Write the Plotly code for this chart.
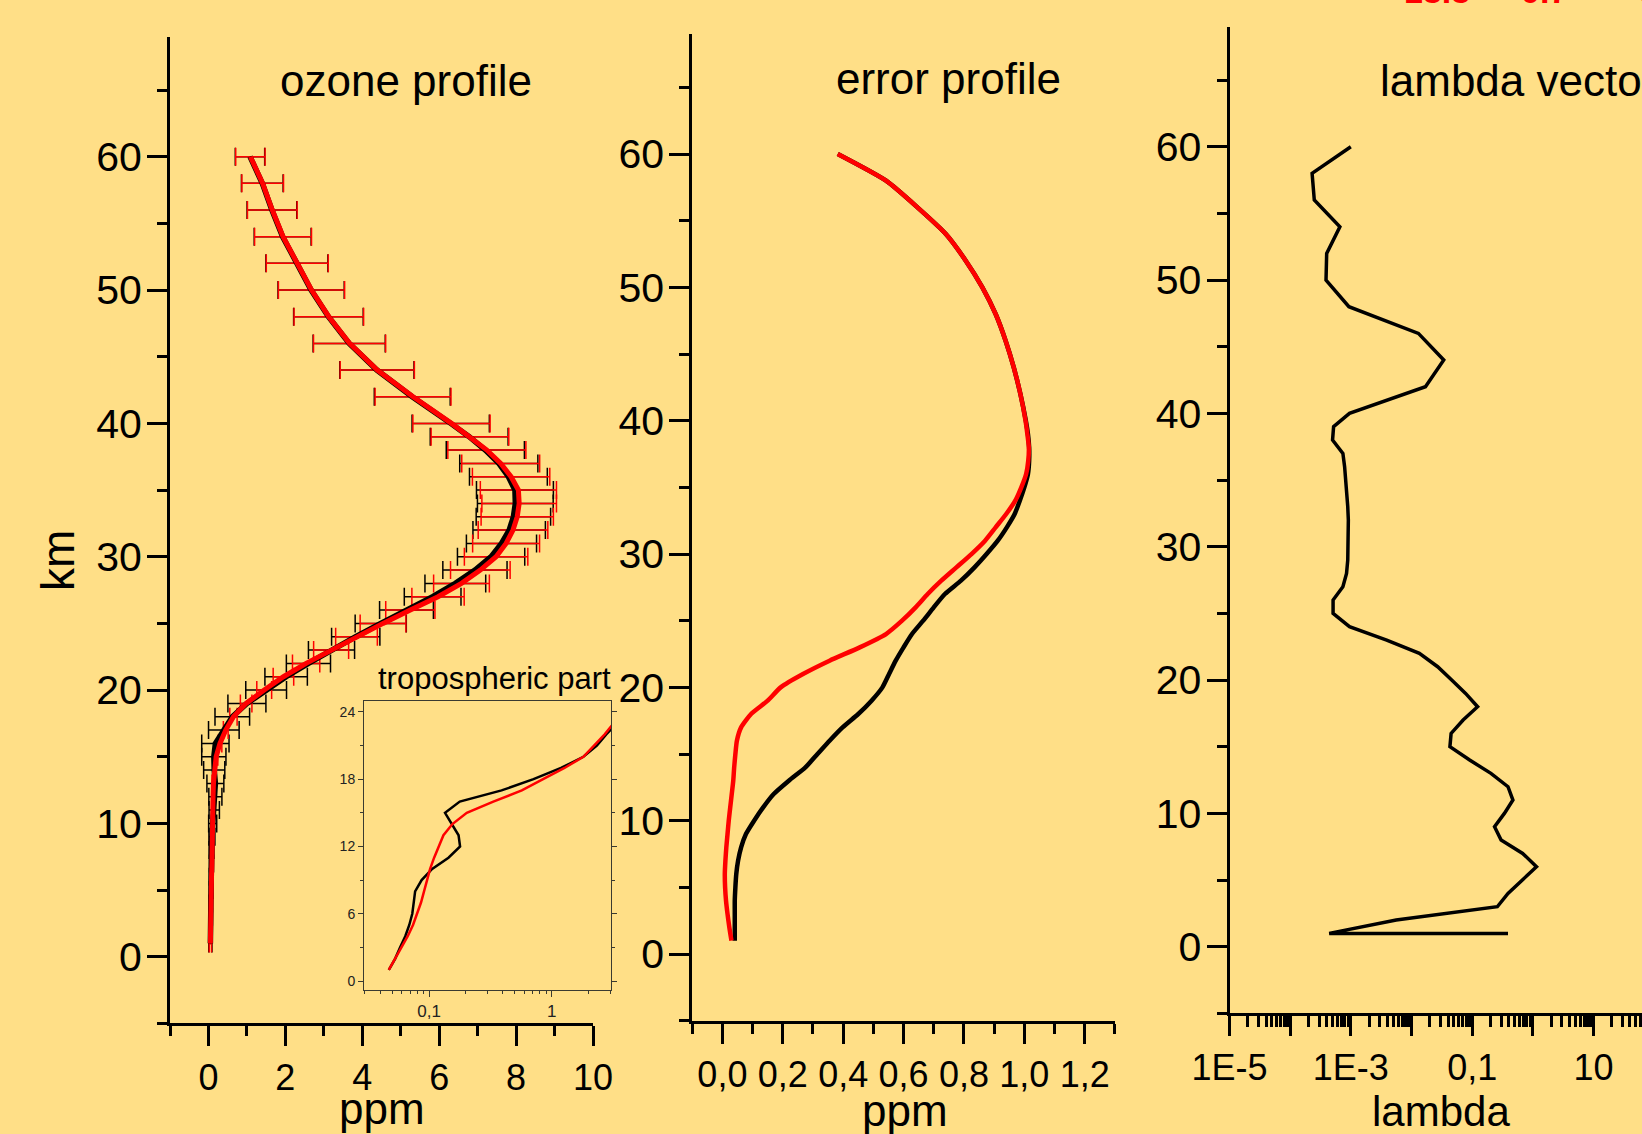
import math
import plotly.graph_objects as go

# ---------------- data ----------------
ALT = list(range(1, 41)) + list(range(42, 61, 2))

O3_TRUE = [0.05, 0.05, 0.06, 0.06, 0.07, 0.07, 0.08, 0.08, 0.09, 0.11,
           0.15, 0.18, 0.18, 0.15, 0.14, 0.18, 0.40, 0.62, 1.00, 1.50,
           2.02, 2.60, 3.20, 3.83, 4.48, 5.15, 5.83, 6.42, 6.93, 7.35,
           7.62, 7.82, 7.93, 7.98, 7.97, 7.80, 7.55, 7.20, 6.78, 6.30,
           5.30, 4.38, 3.66, 3.12, 2.67, 2.30, 1.93, 1.65, 1.40, 1.08]

O3_RET = [0.05, 0.05, 0.06, 0.07, 0.07, 0.08, 0.09, 0.09, 0.10, 0.10,
          0.11, 0.12, 0.13, 0.16, 0.20, 0.30, 0.45, 0.65, 0.98, 1.45,
          1.95, 2.54, 3.19, 3.85, 4.54, 5.25, 5.97, 6.58, 7.07, 7.48,
          7.74, 7.92, 8.03, 8.08, 8.06, 7.87, 7.60, 7.24, 6.80, 6.32,
          5.32, 4.39, 3.67, 3.13, 2.68, 2.31, 1.94, 1.66, 1.41, 1.09]

ERR_TRUE = [0.041, 0.041, 0.041, 0.041, 0.043, 0.046, 0.052, 0.062, 0.078, 0.105,
            0.135, 0.170, 0.220, 0.275, 0.315, 0.355, 0.398, 0.450, 0.494, 0.530,
            0.552, 0.574, 0.600, 0.628, 0.665, 0.700, 0.737, 0.790, 0.835, 0.875,
            0.912, 0.942, 0.968, 0.985, 1.000, 1.012, 1.016, 1.016, 1.012, 1.005,
            0.987, 0.965, 0.938, 0.905, 0.861, 0.806, 0.740, 0.646, 0.542, 0.382]

ERR_RET = [0.030, 0.023, 0.017, 0.012, 0.009, 0.008, 0.010, 0.013, 0.017, 0.021,
           0.026, 0.031, 0.036, 0.039, 0.043, 0.048, 0.062, 0.095, 0.150, 0.193,
           0.267, 0.355, 0.455, 0.542, 0.595, 0.640, 0.680, 0.725, 0.775, 0.825,
           0.870, 0.905, 0.940, 0.970, 0.990, 1.006, 1.013, 1.015, 1.010, 1.004,
           0.987, 0.965, 0.938, 0.905, 0.861, 0.806, 0.740, 0.646, 0.542, 0.382]

INSET_ALT = list(range(1, 24))
INSET_TRUE = [0.047, 0.053, 0.058, 0.064, 0.069, 0.073, 0.075, 0.077, 0.087, 0.106,
              0.144, 0.179, 0.174, 0.153, 0.135, 0.178, 0.39, 0.71, 1.19, 1.81,
              2.33, 2.78, 3.40]
INSET_RET = [0.047, 0.053, 0.060, 0.067, 0.074, 0.080, 0.086, 0.091, 0.096, 0.102,
             0.110, 0.120, 0.131, 0.155, 0.203, 0.334, 0.57, 0.85, 1.27, 1.81,
             2.22, 2.70, 3.20]

LAMBDA_ALT = [60, 58, 56, 54, 52, 50, 48, 46, 44, 42, 40, 39, 38, 37, 36, 35, 34, 33,
              32, 31, 30, 29, 28, 27, 26, 25, 24, 23, 22, 21, 20, 19, 18, 17, 16, 15,
              14, 13, 12, 11, 10, 9, 8, 7, 6, 5, 4, 3, 2, 1, 1]
LAMBDA = [1.0e-3, 2.3e-4, 2.5e-4, 6.6e-4, 4.0e-4, 3.9e-4, 9.3e-4, 1.3e-2, 3.4e-2, 1.7e-2,
          9.5e-4, 5.2e-4, 5.0e-4, 7.4e-4, 7.9e-4, 8.3e-4, 8.7e-4, 8.9e-4, 9.1e-4, 9.1e-4,
          9.1e-4, 8.9e-4, 8.5e-4, 7.4e-4, 5.1e-4, 5.1e-4, 9.5e-4, 3.9e-3, 1.35e-2, 2.7e-2,
          4.6e-2, 7.8e-2, 0.123, 7.1e-2, 4.5e-2, 4.3e-2, 9.1e-2, 0.204, 0.39, 0.47,
          0.34, 0.234, 0.30, 0.68, 1.15, 0.68, 0.39, 0.26, 5.6e-3, 4.4e-4, 0.39]

LAMBDA_TICKS = [1e-5, 1e-4, 1e-3, 1e-2, 1e-1, 1, 10]
LAMBDA_TICKTEXT = ["1E-5", "", "1E-3", "", "0,1", "", "10"]
INSET_TICKS = [0.1, 1]
INSET_TICKTEXT = ["0,1", "1"]

# ---------------- style ----------------
BG = "#FFDF87"
FONT = "Arial, 'Liberation Sans', Helvetica, sans-serif"
W, H = 1642, 1134


def px(x):
    return x / W


def py(y):
    return 1 - y / H


def log_minor(lo, hi):
    vals = []
    for e in range(lo, hi + 1):
        for k in range(2, 10):
            vals.append(k * 10.0 ** e)
    return vals


fig = go.Figure()

# ---- panel 1: ozone profile ----
fig.add_trace(go.Scatter(x=O3_TRUE, y=ALT, mode="markers", xaxis="x", yaxis="y",
                         marker=dict(size=1, color="rgba(0,0,0,0)"),
                         error_x=dict(type="data", array=ERR_TRUE, color="black",
                                      thickness=1.5, width=9),
                         hoverinfo="skip", showlegend=False))
fig.add_trace(go.Scatter(x=O3_RET, y=ALT, mode="markers", xaxis="x", yaxis="y",
                         marker=dict(size=1, color="rgba(0,0,0,0)"),
                         error_x=dict(type="data", array=ERR_RET, color="#FF0000",
                                      thickness=1.5, width=9),
                         hoverinfo="skip", showlegend=False))
fig.add_trace(go.Scatter(x=O3_TRUE, y=ALT, mode="lines", xaxis="x", yaxis="y",
                         line=dict(color="black", width=5.5), showlegend=False))
fig.add_trace(go.Scatter(x=O3_RET, y=ALT, mode="lines", xaxis="x", yaxis="y",
                         line=dict(color="#FF0000", width=5), showlegend=False))

# ---- inset ----
fig.add_trace(go.Scatter(x=INSET_TRUE, y=INSET_ALT, mode="lines", xaxis="x4", yaxis="y4",
                         line=dict(color="black", width=2.5), showlegend=False))
fig.add_trace(go.Scatter(x=INSET_RET, y=INSET_ALT, mode="lines", xaxis="x4", yaxis="y4",
                         line=dict(color="#FF0000", width=2.5), showlegend=False))

# ---- panel 2: error profile ----
fig.add_trace(go.Scatter(x=ERR_TRUE, y=ALT, mode="lines", xaxis="x2", yaxis="y2",
                         line=dict(color="black", width=4.5, shape="spline", smoothing=0.6),
                         showlegend=False))
fig.add_trace(go.Scatter(x=ERR_RET, y=ALT, mode="lines", xaxis="x2", yaxis="y2",
                         line=dict(color="#FF0000", width=4.5, shape="spline", smoothing=0.6),
                         showlegend=False))

# ---- panel 3: lambda vector ----
fig.add_trace(go.Scatter(x=LAMBDA, y=LAMBDA_ALT, mode="lines", xaxis="x3", yaxis="y3",
                         line=dict(color="black", width=3.5), showlegend=False))

# ---------------- axes ----------------
tickfont_y = dict(family=FONT, size=41, color="black")
tickfont_x = dict(family=FONT, size=36, color="black")


def main_axis(**kw):
    d = dict(showline=True, linecolor="black", linewidth=3, ticks="outside",
             ticklen=20, tickwidth=3, tickcolor="black", showgrid=False,
             zeroline=False, ticklabelstandoff=-3, automargin=False)
    d.update(kw)
    return d


minor_lin = lambda dt: dict(ticks="outside", ticklen=10, tickwidth=3,
                            tickcolor="black", dtick=dt, tick0=0, showgrid=False)

fig.update_layout(
    xaxis=main_axis(domain=[px(170), px(593)], range=[-1, 10], tick0=0, dtick=2,
                    minor=minor_lin(1), anchor="y", tickfont=tickfont_x,
                    ticklabelstandoff=0),
    yaxis=main_axis(domain=[py(1023.4), py(36.7)], range=[-5, 69], tick0=0, dtick=10,
                    minor=minor_lin(5), anchor="x", tickfont=tickfont_y),
    xaxis2=main_axis(domain=[px(692.2), px(1114.9)], range=[-0.1, 1.3], tick0=0,
                     dtick=0.2, tickformat=".1f", minor=minor_lin(0.1), anchor="y2",
                     tickfont=tickfont_x, ticklabelstandoff=0),
    yaxis2=main_axis(domain=[py(1020.7), py(34)], range=[-5, 69], tick0=0, dtick=10,
                     minor=minor_lin(5), anchor="x2", tickfont=tickfont_y),
    xaxis3=main_axis(type="log", domain=[px(1229.5), 1.0], range=[-5, 1.8],
                     tickmode="array", tickvals=LAMBDA_TICKS, ticktext=LAMBDA_TICKTEXT,
                     minor=dict(ticks="outside", ticklen=11, tickwidth=2.5,
                                tickcolor="black", tickmode="array",
                                tickvals=log_minor(-5, 1), showgrid=False),
                     anchor="y3", tickfont=tickfont_x, ticklabelstandoff=0),
    yaxis3=main_axis(domain=[py(1013.4), py(26.7)], range=[-5, 69], tick0=0, dtick=10,
                     minor=minor_lin(5), anchor="x3", tickfont=tickfont_y),
    xaxis4=dict(type="log", domain=[px(364), px(611)],
                range=[math.log10(0.0295), math.log10(3.04)],
                showline=True, mirror=True, linecolor="#3a3a30", linewidth=1,
                ticks="outside", ticklen=6, tickwidth=1, tickcolor="#3a3a30",
                tickmode="array", tickvals=INSET_TICKS, ticktext=INSET_TICKTEXT,
                minor=dict(ticks="outside", ticklen=3, tickwidth=1, tickcolor="#3a3a30",
                           tickmode="array", tickvals=log_minor(-2, 0), showgrid=False),
                showgrid=False, zeroline=False, anchor="y4", automargin=False,
                tickfont=dict(family=FONT, size=17, color="#222")),
    yaxis4=dict(domain=[py(990), py(700.7)], range=[-0.8, 25], tick0=0, dtick=6,
                showline=True, mirror="ticks", linecolor="#3a3a30", linewidth=1,
                ticks="outside", ticklen=5, tickwidth=1, tickcolor="#3a3a30",
                minor=dict(ticks="outside", ticklen=3, tickwidth=1, tickcolor="#3a3a30",
                           dtick=3, tick0=0, showgrid=False),
                showgrid=False, zeroline=False, anchor="x4", automargin=False,
                tickfont=dict(family=FONT, size=14, color="#222")),
)

# ---------------- text ----------------
ann = []


def add_text(text, x, y, size, color="black", xanchor="center", yanchor="middle",
             textangle=0, bold=False):
    ann.append(dict(text=("<b>%s</b>" % text) if bold else text,
                    x=px(x), y=py(y), xref="paper", yref="paper",
                    xanchor=xanchor, yanchor=yanchor, showarrow=False,
                    textangle=textangle,
                    font=dict(family=FONT, size=size, color=color)))


add_text("ozone profile", 406, 80, 44)
add_text("error profile", 948, 78, 44)
add_text("lambda vector", 1378, 80, 44, xanchor="left")
add_text("tropospheric part", 494, 678, 31)
add_text("km", 58, 560, 46, textangle=-90)
add_text("ppm", 382, 1108, 44)
add_text("ppm", 905, 1110, 44)
add_text("lambda", 1441, 1111, 42)
# red header text cut by the top edge
add_text("13.3", 1437, 12, 34, color="#FF0000", yanchor="bottom", bold=True)
add_text("0.7", 1544, 12, 34, color="#FF0000", yanchor="bottom", bold=True)
add_text("9", 1648, 12, 34, color="#FF0000", yanchor="bottom", bold=True)

fig.update_layout(
    width=W, height=H, margin=dict(l=0, r=0, t=0, b=0, pad=0, autoexpand=False),
    paper_bgcolor=BG, plot_bgcolor=BG, separators=", ",
    font=dict(family=FONT, color="black"),
    annotations=ann, showlegend=False,
)

fig.write_html("out.html", config={"displayModeBar": False},
               post_script="document.body.style.margin='0';document.body.style.overflow='hidden';")
